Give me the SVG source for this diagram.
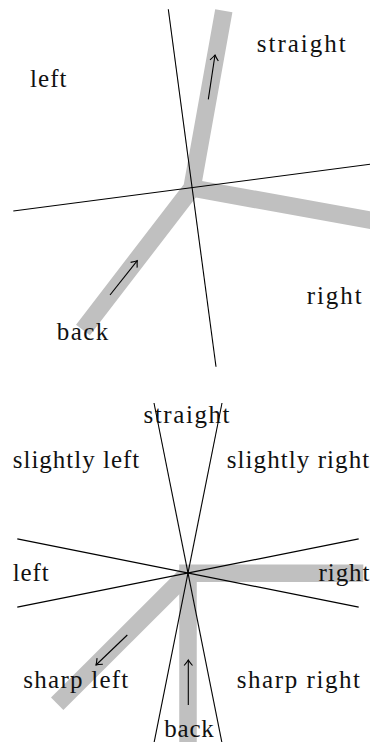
<svg xmlns="http://www.w3.org/2000/svg" width="370" height="742" viewBox="0 0 370 742">
  <style>
    .band { fill: none; stroke: #c0c0c0; stroke-width: 17.5; stroke-linecap: butt; stroke-linejoin: miter; }
    .sep { fill: none; stroke: #000; stroke-width: 1.1; }
    .arr { fill: none; stroke: #000; stroke-width: 1.1; marker-end: url(#to); }
    .lbl { font-family: "Liberation Serif", "Times New Roman", serif; font-size: 25px; fill: #111; }
  </style>
  <defs>
    <marker id="to" markerUnits="userSpaceOnUse" viewBox="-7 -6 9 12" markerWidth="9" markerHeight="12" refX="0" refY="0" orient="auto" overflow="visible">
      <path d="M-5.5,-4.2 Q-1.8,-1 0,0 Q-1.8,1 -5.5,4.2" fill="none" stroke="#000" stroke-width="1.1"/>
    </marker>
  </defs>

  <g id="connectors">
    <!-- top diagram: gray route bands -->
    <path class="band" d="M83,330 L192,188 L223.8,10.8"/>
    <path class="band" d="M192,188 L372,220.5"/>
    <!-- bottom diagram: gray route bands -->
    <path class="band" d="M188,745 L188,573.3 L363.3,573.3"/>
    <path class="band" d="M188,573.3 L57.2,703.8"/>

    <!-- top diagram: sector separators -->
    <line class="sep" x1="168.3" y1="9.3" x2="216" y2="366.7"/>
    <line class="sep" x1="13.3" y1="211" x2="372" y2="164"/>
    <!-- bottom diagram: sector separators -->
    <line class="sep" x1="154" y1="403" x2="222" y2="743"/>
    <line class="sep" x1="222" y1="403" x2="154" y2="743"/>
    <line class="sep" x1="17.3" y1="538.9" x2="358.7" y2="607.1"/>
    <line class="sep" x1="17.3" y1="607.1" x2="358.7" y2="538.9"/>

    <!-- direction arrows -->
    <line class="arr" x1="208.3" y1="99.3" x2="215" y2="55"/>
    <line class="arr" x1="110" y1="295" x2="137.3" y2="260.7"/>
    <line class="arr" x1="188.3" y1="705" x2="188.3" y2="660"/>
    <line class="arr" x1="127.3" y1="635" x2="96" y2="665"/>
  </g>

  <!-- top diagram labels -->
  <g id="top-left"><text class="lbl" x="30" y="86.5" textLength="36.5" lengthAdjust="spacing">left</text></g>
  <g id="top-straight"><text class="lbl" x="256.7" y="51.5" textLength="89" lengthAdjust="spacing">straight</text></g>
  <g id="top-right"><text class="lbl" x="306.7" y="304" textLength="55" lengthAdjust="spacing">right</text></g>
  <g id="top-back"><text class="lbl" x="56.7" y="340" textLength="51.5" lengthAdjust="spacing">back</text></g>

  <!-- bottom diagram labels -->
  <g id="bot-straight"><text class="lbl" x="143.5" y="422.5" textLength="86" lengthAdjust="spacing">straight</text></g>
  <g id="bot-slightly-left"><text class="lbl" x="12.7" y="468.3" textLength="126.6" lengthAdjust="spacing">slightly left</text></g>
  <g id="bot-slightly-right"><text class="lbl" x="226.7" y="468.3" textLength="142.5" lengthAdjust="spacing">slightly right</text></g>
  <g id="bot-left"><text class="lbl" x="12.7" y="580.5" textLength="36" lengthAdjust="spacing">left</text></g>
  <g id="bot-right"><text class="lbl" x="318.5" y="580.5" textLength="51" lengthAdjust="spacing">right</text></g>
  <g id="bot-sharp-left"><text class="lbl" x="23.3" y="688.3" textLength="105" lengthAdjust="spacing">sharp left</text></g>
  <g id="bot-sharp-right"><text class="lbl" x="236.7" y="688.3" textLength="123.3" lengthAdjust="spacing">sharp right</text></g>
  <g id="bot-back"><text class="lbl" x="164.3" y="737" textLength="49.5" lengthAdjust="spacing">back</text></g>
</svg>
